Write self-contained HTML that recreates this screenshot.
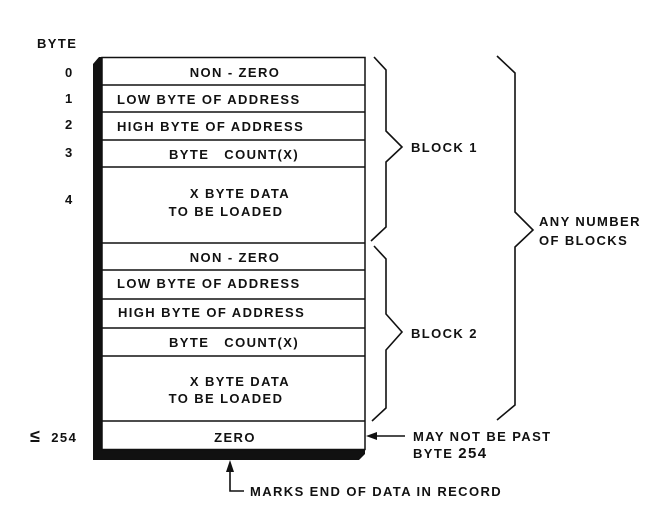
<!DOCTYPE html>
<html><head><style>
html,body{margin:0;padding:0;background:#fff;}
svg text{font-family:"Liberation Sans",sans-serif;font-weight:bold;font-size:13px;letter-spacing:1.4px;fill:#111;}
</style></head><body>
<svg width="652" height="509" viewBox="0 0 652 509" xmlns="http://www.w3.org/2000/svg">
<path d="M93,64 L99,57 L102,57 L102,450 L365,450 L365,454 L359,460 L93,460 Z" fill="#111"/>
<rect x="102" y="57.5" width="263" height="392" fill="none" stroke="#111" stroke-width="1.5"/>
<g stroke="#111" stroke-width="1.5">
<line x1="102" y1="85" x2="365" y2="85"/>
<line x1="102" y1="112" x2="365" y2="112"/>
<line x1="102" y1="140" x2="365" y2="140"/>
<line x1="102" y1="167" x2="365" y2="167"/>
<line x1="102" y1="243" x2="365" y2="243"/>
<line x1="102" y1="270" x2="365" y2="270"/>
<line x1="102" y1="299" x2="365" y2="299"/>
<line x1="102" y1="328" x2="365" y2="328"/>
<line x1="102" y1="356" x2="365" y2="356"/>
<line x1="102" y1="421" x2="365" y2="421"/>
</g>
<g text-anchor="middle">
<text x="235" y="77">NON - ZERO</text>
<text x="235" y="262">NON - ZERO</text>
<text x="235" y="442">ZERO</text>
<text x="240" y="198">X  BYTE  DATA</text>
<text x="226" y="216">TO  BE  LOADED</text>
<text x="240" y="386">X  BYTE  DATA</text>
<text x="226" y="403">TO  BE  LOADED</text>
</g>
<text x="117" y="104">LOW BYTE OF ADDRESS</text>
<text x="117" y="131">HIGH BYTE OF ADDRESS</text>
<text x="169" y="159" xml:space="preserve">BYTE   COUNT(X)</text>
<text x="117" y="288">LOW BYTE OF ADDRESS</text>
<text x="118" y="317">HIGH BYTE OF ADDRESS</text>
<text x="169" y="347" xml:space="preserve">BYTE   COUNT(X)</text>
<text x="37" y="48">BYTE</text>
<text x="65" y="77">0</text>
<text x="65" y="103">1</text>
<text x="65" y="129">2</text>
<text x="65" y="157">3</text>
<text x="65" y="204">4</text>
<text x="30" y="442" xml:space="preserve"><tspan font-size="18">≤</tspan>  254</text>
<g fill="none" stroke="#111" stroke-width="1.6">
<path d="M374,57 L386,70 L386,131 L402,147 L386,162 L386,227 L371,241"/>
<path d="M374,246 L386,259 L386,314 L402,332 L386,350 L386,408 L372,421"/>
<path d="M497,56 L515,73 L515,212 L533,230 L515,247 L515,405 L497,420"/>
</g>
<text x="411" y="152">BLOCK 1</text>
<text x="411" y="338">BLOCK 2</text>
<text x="539" y="226">ANY NUMBER</text>
<text x="539" y="245">OF BLOCKS</text>
<line x1="375" y1="436" x2="405" y2="436" stroke="#111" stroke-width="1.6"/>
<polygon points="366,436 377,432 377,440" fill="#111"/>
<text x="413" y="441">MAY NOT BE PAST</text>
<text x="413" y="458">BYTE <tspan font-size="15">254</tspan></text>
<polyline points="230,470 230,491 244,491" fill="none" stroke="#111" stroke-width="1.6"/>
<polygon points="230,460 226,472 234,472" fill="#111"/>
<text x="250" y="496">MARKS END OF DATA IN RECORD</text>
</svg>
</body></html>
